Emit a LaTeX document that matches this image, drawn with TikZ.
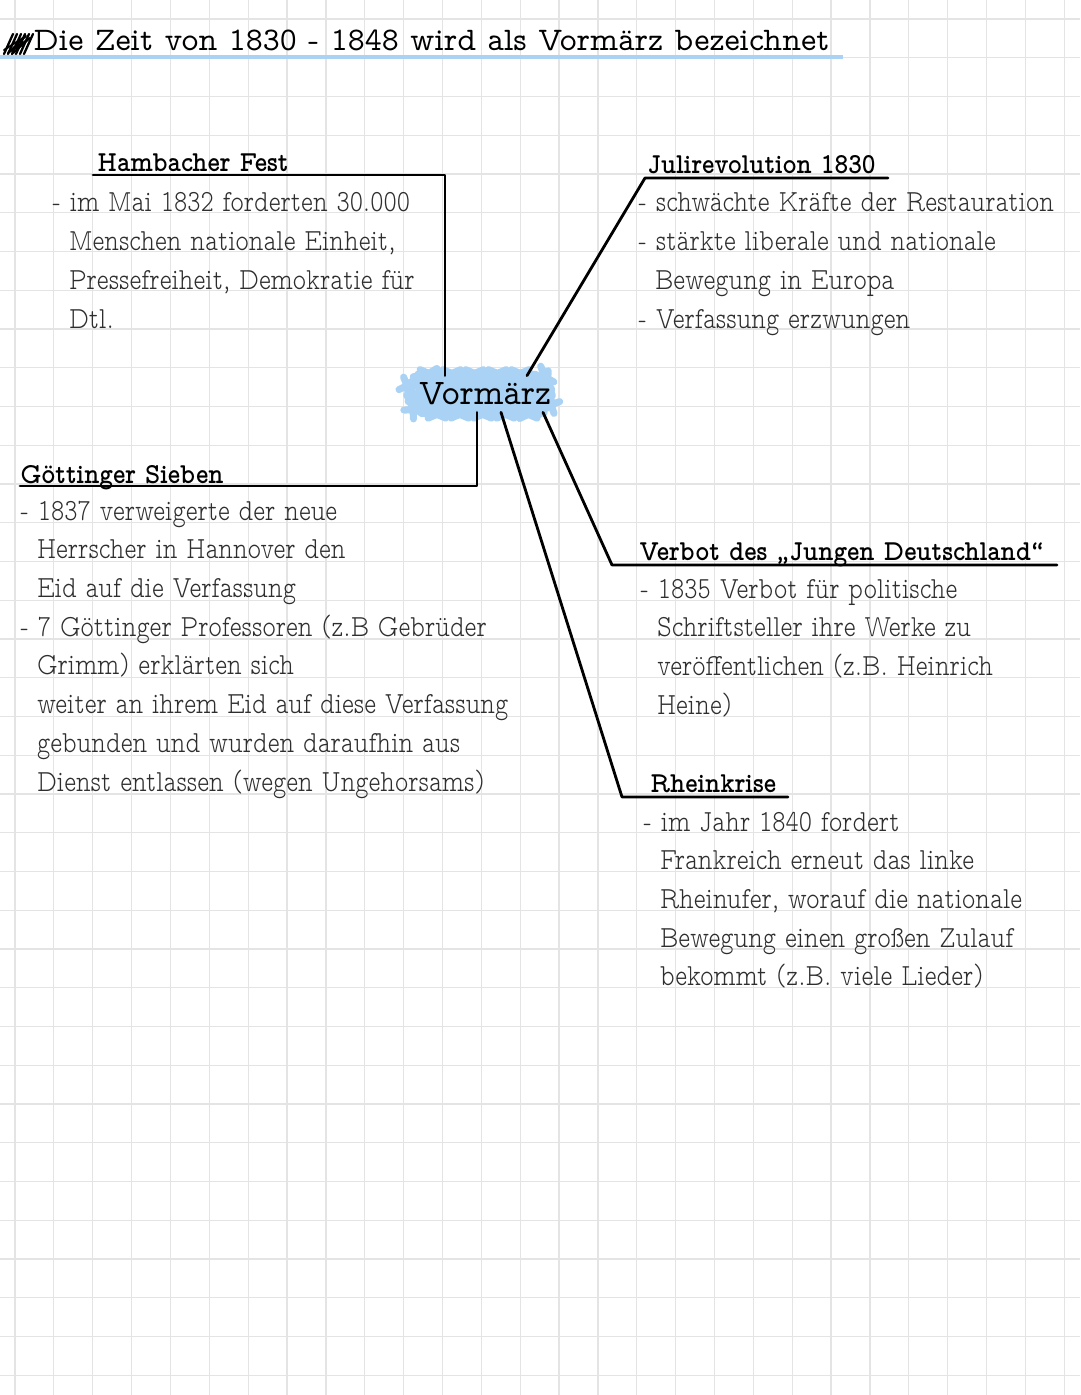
\documentclass[tikz,border=0pt]{standalone}
\usepackage{fontspec}
\usetikzlibrary{calc, decorations.pathmorphing}
\newfontfamily\bodyfont{lmmonoproplt10-regular.otf}[FakeStretch=0.82]
\newfontfamily\headfont{lmmonoproplt10-bold.otf}[FakeStretch=0.9]
\newfontfamily\titlefont{lmmonoprop10-regular.otf}[FakeStretch=0.98]
\newfontfamily\vmfont{lmmonoprop10-regular.otf}[FakeStretch=0.95]
\definecolor{gridgrey}{HTML}{E4E4E4}
\definecolor{marker}{HTML}{A9D2F4}
\definecolor{ink}{HTML}{2E2E2E}
\tikzset{
  gridline/.style={gridgrey, line width=0.7pt},
  conn/.style={line width=1.6pt, black, line cap=round, line join=round},
  head/.style={anchor=base west, inner sep=0pt, font=\headfont\fontsize{16.5pt}{22.05pt}\selectfont},
  body/.style={anchor=base west, inner sep=0pt, text=ink,
    font=\bodyfont\fontsize{17.5pt}{22.05pt}\selectfont},
  vmbox/.style={rectangle, rounded corners=9pt, fill=marker, minimum width=2.65cm,
    minimum height=0.72cm, inner sep=2pt, font=\vmfont\fontsize{20.5pt}{24pt}\selectfont,
    postaction={draw=marker, line width=4pt, line join=round, line cap=round, decorate,
      decoration={snake, segment length=13pt, amplitude=0.9pt}}},
}
\newcommand{\ind}{\hspace*{9.5pt}}
\newcommand{\blk}[1]{\begin{tabular}[t]{@{}l@{}}#1\end{tabular}}

\begin{document}
\begin{tikzpicture}[x=0.02cm, y=-0.02cm]
\useasboundingbox (0,0) rectangle (1080,1395);
\fill[white] (0,0) rectangle (1080,1395);
% squared paper
\foreach \gx in {0,...,27}
  \draw[gridline] ({15+38.86*\gx},0) -- ({15+38.86*\gx},1395);
\foreach \gy in {0,...,35}
  \draw[gridline] (0,{19+38.75*\gy}) -- (1080,{19+38.75*\gy});

% title
\draw[marker, line width=2.8pt] (0,57) -- (843,57);
\foreach \i in {0,...,5}
  \draw[line width=1.3pt, line cap=round] ({4+4*\i},54) -- ({13+4*\i},34);
\draw[line width=1.1pt, line cap=round, line join=round]
  (4,50) -- (26,36) -- (8,53) -- (30,38) -- (12,54);
\node[anchor=base west, inner sep=0pt, font=\titlefont\fontsize{18.8pt}{22pt}\selectfont]
  (title) at (33,51) {Die Zeit von 1830 - 1848 wird als Vormärz bezeichnet};

\node[vmbox] (vm) at (485,394) {Vormärz};

% Hambacher Fest
\node[head] (hf) at (97,172) {Hambacher Fest};
\node[body] (hfb) at (52,212) {\blk{- im Mai 1832 forderten 30.000\\
  \ind Menschen nationale Einheit,\\
  \ind Pressefreiheit, Demokratie für\\
  \ind Dtl.}};
\coordinate (hfL) at (93,175);
\coordinate (hfR) at (445,175);
\draw[conn] (hfL) -- (hfR) -- (hfR |- vm.north);

% Julirevolution
\node[head] (jr) at (647,174) {Julirevolution 1830};
\node[body] (jrb) at (638,212) {\blk{- schwächte Kräfte der Restauration\\
  - stärkte liberale und nationale\\
  \ind Bewegung in Europa\\
  - Verfassung erzwungen}};
\coordinate (jrL) at (645,178);
\coordinate (jrR) at (888,178);
\draw[conn] (jrR) -- (jrL) -- ($(vm.north)+(42,0)$);

% Goettinger Sieben
\node[head] (gs) at (20,483) {Göttinger Sieben};
\node[body] (gsb) at (20,520) {\blk{- 1837 verweigerte der neue\\
  \ind Herrscher in Hannover den\\
  \ind Eid auf die Verfassung\\
  - 7 Göttinger Professoren (z.B Gebrüder\\
  \ind Grimm) erklärten sich\\
  \ind weiter an ihrem Eid auf diese Verfassung\\
  \ind gebunden und wurden daraufhin aus\\
  \ind Dienst entlassen (wegen Ungehorsams)}};
\coordinate (gsL) at (20,486);
\coordinate (gsR) at (477,486);
\draw[conn] (gsL) -- (gsR) -- (gsR |- vm.south);

% Junges Deutschland
\node[head] (jd) at (639,560) {Verbot des „Jungen Deutschland“};
\node[body] (jdb) at (640,598) {\blk{- 1835 Verbot für politische\\
  \ind Schriftsteller ihre Werke zu\\
  \ind veröffentlichen (z.B. Heinrich\\
  \ind Heine)}};
\coordinate (jdL) at (612,565);
\coordinate (jdR) at (1057,565);
\draw[conn] (jdR) -- (jdL) -- ($(vm.south)+(58,0)$);

% Rheinkrise
\node[head] (rk) at (650,792) {Rheinkrise};
\node[body] (rkb) at (643,831) {\blk{- im Jahr 1840 fordert\\
  \ind Frankreich erneut das linke\\
  \ind Rheinufer, worauf die nationale\\
  \ind Bewegung einen großen Zulauf\\
  \ind bekommt (z.B. viele Lieder)}};
\coordinate (rkL) at (622,797);
\coordinate (rkR) at (788,797);
\draw[conn] (rkR) -- (rkL) -- ($(vm.south)+(16,0)$);
\end{tikzpicture}
\end{document}
